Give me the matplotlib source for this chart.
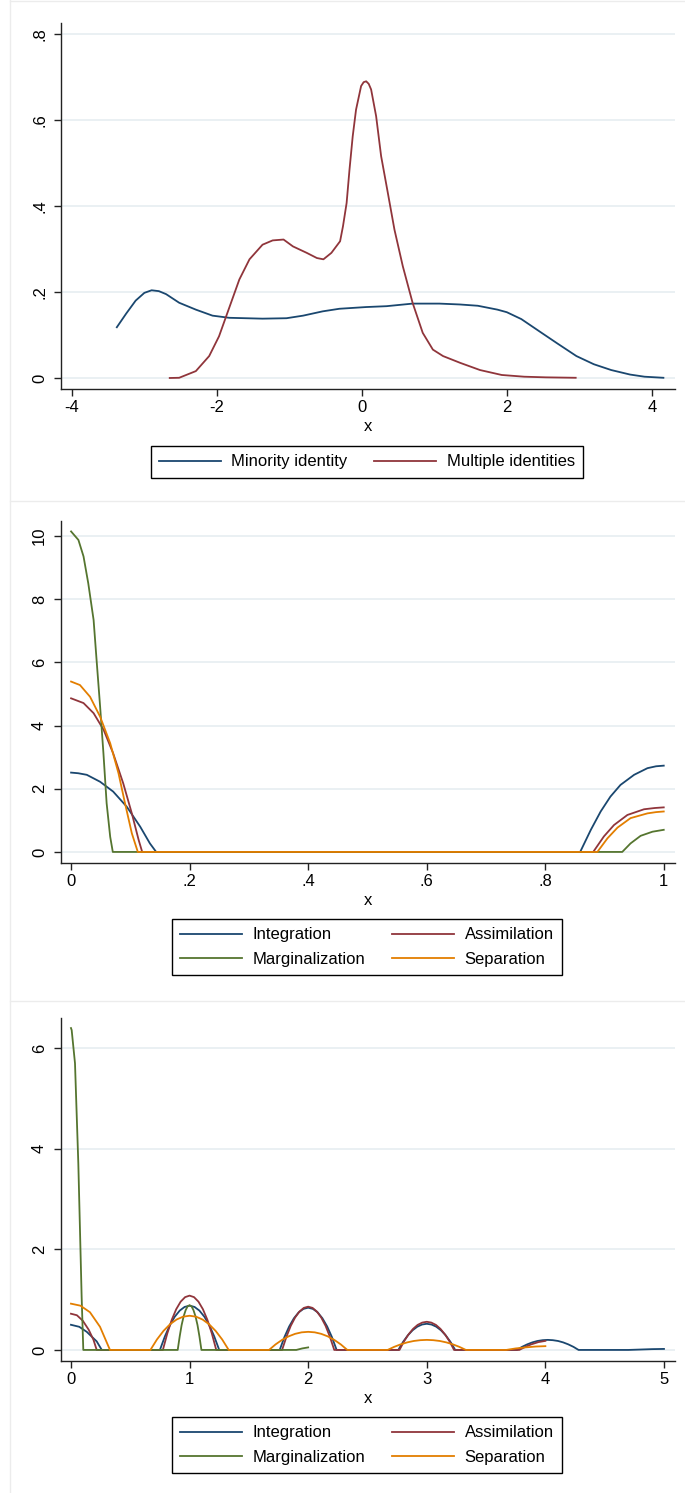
import matplotlib
matplotlib.use("Agg")
import matplotlib.pyplot as plt
from matplotlib.lines import Line2D

plt.rcParams["font.family"] = ["Liberation Sans", "DejaVu Sans"]

# -------------------
# Data
# -------------------

# panel 1: kernel densities
minority_x = [-3.38, -3.25, -3.12, -3.0, -2.9, -2.8, -2.7, -2.52, -2.29, -2.06, -1.83,
              -1.37, -1.04, -0.81, -0.54, -0.31, 0.06, 0.34, 0.70, 1.07, 1.35, 1.6,
              1.87, 2.0, 2.2, 2.48, 2.7, 2.96, 3.2, 3.44, 3.7, 3.9, 4.16]
minority_y = [0.118, 0.15, 0.18, 0.198, 0.204, 0.202, 0.195, 0.175, 0.159, 0.145, 0.140,
              0.138, 0.139, 0.145, 0.155, 0.161, 0.165, 0.167, 0.173, 0.173, 0.171, 0.168,
              0.159, 0.153, 0.137, 0.105, 0.08, 0.051, 0.032, 0.0185, 0.008, 0.003, 0.0005]

multiple_x = [-2.65, -2.52, -2.29, -2.106, -1.97, -1.83, -1.69, -1.55, -1.37, -1.23,
              -1.08, -0.95, -0.76, -0.62, -0.53, -0.42, -0.30, -0.26, -0.21, -0.17,
              -0.126, -0.08, -0.01, 0.025, 0.06, 0.095, 0.128, 0.197, 0.266, 0.358,
              0.45, 0.565, 0.70, 0.84, 0.98, 1.12, 1.36, 1.63, 1.93, 2.24, 2.54, 2.95]
multiple_y = [0.0, 0.0005, 0.016, 0.051, 0.097, 0.163, 0.229, 0.276, 0.31, 0.32,
              0.322, 0.306, 0.291, 0.279, 0.276, 0.291, 0.318, 0.353, 0.407, 0.485,
              0.562, 0.624, 0.679, 0.688, 0.69, 0.684, 0.671, 0.609, 0.516, 0.431,
              0.345, 0.26, 0.175, 0.105, 0.066, 0.051, 0.035, 0.0185, 0.007, 0.003, 0.0015, 0.0005]

p1_xticks = [-4, -2, 0, 2, 4]
p1_xlabels = ["-4", "-2", "0", "2", "4"]
p1_yticks = [0, 0.2, 0.4, 0.6, 0.8]
p1_ylabels = ["0", ".2", ".4", ".6", ".8"]

# panel 2
p2_integ_x = [0, 0.012, 0.0265, 0.049, 0.071, 0.094, 0.1166, 0.133, 0.1436,
              0.859, 0.877, 0.8936, 0.91, 0.927, 0.95, 0.9725, 0.987, 1.0]
p2_integ_y = [2.51, 2.49, 2.44, 2.22, 1.91, 1.43, 0.8, 0.27, 0.0,
              0.0, 0.70, 1.28, 1.75, 2.12, 2.44, 2.65, 2.71, 2.73]

p2_assim_x = [0, 0.021, 0.038, 0.055, 0.071, 0.088, 0.1025, 0.114, 0.12,
              0.881, 0.899, 0.916, 0.9387, 0.9667, 0.985, 1.0]
p2_assim_y = [4.86, 4.71, 4.39, 3.86, 3.12, 2.17, 1.22, 0.38, 0.0,
              0.0, 0.49, 0.85, 1.17, 1.35, 1.39, 1.41]

p2_marg_x = [0, 0.0124, 0.021, 0.029, 0.038, 0.043, 0.049, 0.0546, 0.06, 0.066, 0.0704,
             0.93, 0.944, 0.961, 0.981, 1.0]
p2_marg_y = [10.14, 9.87, 9.35, 8.5, 7.34, 6.08, 4.6, 3.12, 1.54, 0.48, 0.0,
             0.0, 0.27, 0.51, 0.64, 0.70]

p2_sep_x = [0, 0.015, 0.032, 0.049, 0.066, 0.08, 0.091, 0.1025, 0.1126,
            0.888, 0.905, 0.922, 0.944, 0.9725, 0.987, 1.0]
p2_sep_y = [5.39, 5.28, 4.91, 4.28, 3.44, 2.49, 1.54, 0.59, 0.0,
            0.0, 0.43, 0.77, 1.07, 1.22, 1.26, 1.28]

p2_xticks = [0, 0.2, 0.4, 0.6, 0.8, 1.0]
p2_xlabels = ["0", ".2", ".4", ".6", ".8", "1"]
p2_yticks = [0, 2, 4, 6, 8, 10]
p2_ylabels = ["0", "2", "4", "6", "8", "10"]

# panel 3
p3_integ_x = ([0, 0.07, 0.133, 0.217, 0.26]
              + [0.75, 0.792, 0.833, 0.875, 0.917, 0.958, 1.0, 1.042, 1.083, 1.125, 1.167, 1.208, 1.25]
              + [1.76, 1.80, 1.84, 1.88, 1.92, 1.96, 2.0, 2.04, 2.08, 2.12, 2.16, 2.20, 2.24]
              + [2.76, 2.80, 2.84, 2.88, 2.92, 2.96, 3.0, 3.04, 3.08, 3.12, 3.16, 3.20, 3.24]
              + [3.76, 3.803, 3.847, 3.89, 3.933, 3.977, 4.02, 4.063, 4.107, 4.15, 4.193, 4.237, 4.28]
              + [4.7, 4.8, 4.9, 5.0])
p3_integ_y = ([0.5, 0.46, 0.36, 0.17, 0.0]
              + [0.0, 0.269, 0.489, 0.66, 0.782, 0.855, 0.88, 0.855, 0.782, 0.66, 0.489, 0.269, 0.0]
              + [0.0, 0.257, 0.467, 0.63, 0.747, 0.816, 0.84, 0.816, 0.747, 0.63, 0.467, 0.257, 0.0]
              + [0.0, 0.159, 0.289, 0.39, 0.462, 0.505, 0.52, 0.505, 0.462, 0.39, 0.289, 0.159, 0.0]
              + [0.0, 0.061, 0.111, 0.15, 0.178, 0.194, 0.2, 0.194, 0.178, 0.15, 0.111, 0.061, 0.0]
              + [0.0, 0.008, 0.016, 0.02])

p3_assim_x = ([0, 0.05, 0.1, 0.15, 0.19, 0.217]
              + [0.775, 0.8125, 0.85, 0.8875, 0.925, 0.9625, 1.0, 1.0375, 1.075, 1.1125, 1.15, 1.1875, 1.225]
              + [1.78, 1.817, 1.853, 1.89, 1.927, 1.963, 2.0, 2.037, 2.073, 2.11, 2.147, 2.183, 2.22]
              + [2.77, 2.808, 2.847, 2.885, 2.923, 2.962, 3.0, 3.038, 3.077, 3.115, 3.153, 3.192, 3.23]
              + [3.78, 3.83, 3.88, 3.94, 4.0])
p3_assim_y = ([0.72, 0.69, 0.58, 0.40, 0.2, 0.0]
              + [0.0, 0.33, 0.6, 0.81, 0.96, 1.05, 1.08, 1.05, 0.96, 0.81, 0.6, 0.33, 0.0]
              + [0.0, 0.263, 0.478, 0.645, 0.764, 0.836, 0.86, 0.836, 0.764, 0.645, 0.478, 0.263, 0.0]
              + [0.0, 0.171, 0.311, 0.42, 0.498, 0.544, 0.56, 0.544, 0.498, 0.42, 0.311, 0.171, 0.0]
              + [0.0, 0.06, 0.11, 0.155, 0.18])

p3_marg_x = ([0, 0.006, 0.034, 0.048, 0.062, 0.076, 0.09, 0.104]
             + [0.9, 0.917, 0.933, 0.95, 0.967, 0.983, 1.0, 1.017, 1.033, 1.05, 1.067, 1.083, 1.1]
             + [1.9, 1.95, 2.0])
p3_marg_y = ([6.4, 6.36, 5.7, 4.7, 3.71, 2.39, 1.06, 0.0]
             + [0.0, 0.272, 0.494, 0.668, 0.791, 0.865, 0.89, 0.865, 0.791, 0.668, 0.494, 0.272, 0.0]
             + [0.0, 0.03, 0.05])

p3_sep_x = ([0, 0.08, 0.16, 0.245, 0.329]
            + [0.67, 0.725, 0.78, 0.835, 0.89, 0.945, 1.0, 1.055, 1.11, 1.165, 1.22, 1.275, 1.33]
            + [1.67, 1.725, 1.78, 1.835, 1.89, 1.945, 2.0, 2.055, 2.11, 2.165, 2.22, 2.275, 2.33]
            + [2.67, 2.725, 2.78, 2.835, 2.89, 2.945, 3.0, 3.055, 3.11, 3.165, 3.22, 3.275, 3.33]
            + [3.67, 3.75, 3.83, 3.92, 4.0])
p3_sep_y = ([0.92, 0.88, 0.75, 0.46, 0.0]
            + [0.0, 0.208, 0.378, 0.51, 0.604, 0.661, 0.68, 0.661, 0.604, 0.51, 0.378, 0.208, 0.0]
            + [0.0, 0.11, 0.2, 0.27, 0.32, 0.35, 0.36, 0.35, 0.32, 0.27, 0.2, 0.11, 0.0]
            + [0.0, 0.061, 0.111, 0.15, 0.178, 0.194, 0.2, 0.194, 0.178, 0.15, 0.111, 0.061, 0.0]
            + [0.0, 0.03, 0.05, 0.068, 0.075])

p3_xticks = [0, 1, 2, 3, 4, 5]
p3_xlabels = ["0", "1", "2", "3", "4", "5"]
p3_yticks = [0, 2, 4, 6]
p3_ylabels = ["0", "2", "4", "6"]

# Stata s2color
NAVY = "#1a476f"
MAROON = "#90353b"
GREEN = "#55752f"
ORANGE = "#e37e00"
GRID = "#e6eef1"

W, H = 685, 1493
FS = 12
LW = 1.3

fig = plt.figure(figsize=(W / 100, H / 100), dpi=100)
fig.patch.set_facecolor("white")


def px_axes(left, top, right, bottom):
    return fig.add_axes([left / W, 1 - bottom / H, (right - left) / W, (bottom - top) / H])


def style(ax, xlim, ylim, xticks, xlabels, yticks, ylabels):
    ax.set_xlim(*xlim)
    ax.set_ylim(*ylim)
    ax.set_xticks(xticks)
    ax.set_xticklabels(xlabels)
    ax.set_yticks(yticks)
    ax.set_yticklabels(ylabels, rotation=90, va="center")
    for side in ["top", "right"]:
        ax.spines[side].set_visible(False)
    for side in ["left", "bottom"]:
        ax.spines[side].set_linewidth(1.0)
        ax.spines[side].set_color("#222222")
    ax.tick_params(axis="both", direction="out", length=5, width=1.0,
                   colors="#222222", labelsize=FS, labelcolor="black")
    ax.tick_params(axis="x", pad=3)
    ax.tick_params(axis="y", pad=5)
    ax.yaxis.grid(True, color=GRID, linewidth=1.2)
    ax.set_axisbelow(True)
    ax.set_xlabel("x", fontsize=FS, labelpad=3)


def legend(ax, handles, labels, ncol, top):
    leg = ax.legend(handles, labels, ncol=ncol, loc="upper center",
                    bbox_to_anchor=(367 / W, 1 - top / H),
                    bbox_transform=fig.transFigure,
                    fontsize=FS, frameon=True, fancybox=False,
                    edgecolor="black", framealpha=1,
                    handlelength=3.7, handletextpad=0.65,
                    columnspacing=1.6, borderpad=0.5, labelspacing=0.58,
                    borderaxespad=0)
    leg.get_frame().set_linewidth(1.0)


# -------------------
# Panel 1
# -------------------

ax1 = px_axes(61, 23, 675, 389)
ax1.plot(minority_x, minority_y, color=NAVY, lw=LW)
ax1.plot(multiple_x, multiple_y, color=MAROON, lw=LW)
style(ax1, (-4.15, 4.32), (-0.0256, 0.8256),
      p1_xticks, p1_xlabels, p1_yticks, p1_ylabels)
legend(ax1,
       [Line2D([], [], color=NAVY, lw=LW), Line2D([], [], color=MAROON, lw=LW)],
       ["Minority identity", "Multiple identities"], 2, 446)

# -------------------
# Panel 2
# -------------------

ax2 = px_axes(61, 521, 675, 863)
ax2.plot(p2_integ_x, p2_integ_y, color=NAVY, lw=LW)
ax2.plot(p2_assim_x, p2_assim_y, color=MAROON, lw=LW)
ax2.plot(p2_marg_x, p2_marg_y, color=GREEN, lw=LW)
ax2.plot(p2_sep_x, p2_sep_y, color=ORANGE, lw=LW)
style(ax2, (-0.017, 1.019), (-0.35, 10.47),
      p2_xticks, p2_xlabels, p2_yticks, p2_ylabels)

# -------------------
# Panel 3
# -------------------

ax3 = px_axes(61, 1018, 675, 1361)
ax3.plot(p3_integ_x, p3_integ_y, color=NAVY, lw=LW)
ax3.plot(p3_assim_x, p3_assim_y, color=MAROON, lw=LW)
ax3.plot(p3_marg_x, p3_marg_y, color=GREEN, lw=LW)
ax3.plot(p3_sep_x, p3_sep_y, color=ORANGE, lw=LW)
style(ax3, (-0.084, 5.093), (-0.22, 6.6),
      p3_xticks, p3_xlabels, p3_yticks, p3_ylabels)

four = [Line2D([], [], color=c, lw=LW) for c in [NAVY, MAROON, GREEN, ORANGE]]
four_labels = ["Integration", "Assimilation", "Marginalization", "Separation"]
# ncol=2 fills column-wise, so put column 1 first
order = [0, 2, 1, 3]
legend(ax2, [four[i] for i in order], [four_labels[i] for i in order], 2, 919)
legend(ax3, [four[i] for i in order], [four_labels[i] for i in order], 2, 1417)

# faint panel borders
for y in [1, 501, 1001]:
    fig.add_artist(Line2D([10 / W, 1], [1 - y / H, 1 - y / H],
                          transform=fig.transFigure, color="#ececec", lw=1))
fig.add_artist(Line2D([10 / W, 10 / W], [0, 1],
                      transform=fig.transFigure, color="#ececec", lw=1))

fig.savefig("out.png", dpi=100)
